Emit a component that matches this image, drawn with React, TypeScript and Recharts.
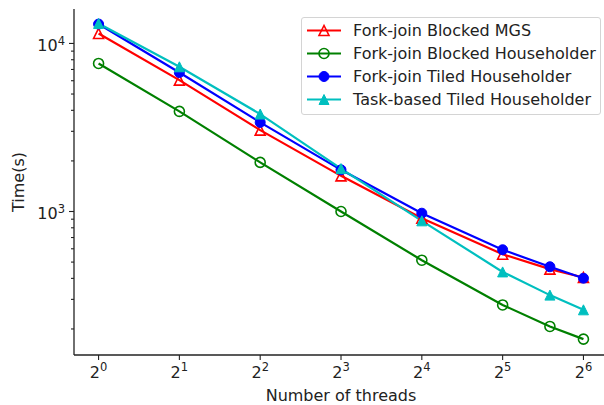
import { Legend, Line, LineChart, XAxis, YAxis } from 'recharts';

// thread counts on the x axis (log2)
const threads = [1, 2, 4, 8, 16, 32, 48, 64];

// runtimes in seconds
const mgsBlocked = [11470, 6050, 3050, 1630, 913, 557, 454, 405];
const hhBlocked = [7600, 3940, 1960, 1000, 513, 278, 207, 174];
const hhTiled = [13040, 6710, 3390, 1770, 977, 592, 469, 401];
const hhTask = [13150, 7260, 3800, 1800, 880, 437, 318, 260];

const xTicks = [1, 2, 4, 8, 16, 32, 64];
const yTicks = [
  200, 300, 400, 500, 600, 700, 800, 900, 1000,
  2000, 3000, 4000, 5000, 6000, 7000, 8000, 9000, 10000,
];
const yMajor = [1000, 10000];

const FONT = 'DejaVu Sans, Verdana, sans-serif';
const INK = '#222';
const FS = 16;

type Marker = 'triangleOpen' | 'circleOpen' | 'circle' | 'triangle';

const series: { key: string; name: string; color: string; marker: Marker; values: number[] }[] = [
  { key: 'mgs', name: 'Fork-join Blocked MGS', color: '#ff0000', marker: 'triangleOpen', values: mgsBlocked },
  { key: 'hhb', name: 'Fork-join Blocked Householder', color: '#008000', marker: 'circleOpen', values: hhBlocked },
  { key: 'hht', name: 'Fork-join Tiled Householder', color: '#0000ff', marker: 'circle', values: hhTiled },
  { key: 'task', name: 'Task-based Tiled Householder', color: '#00bfbf', marker: 'triangle', values: hhTask },
];

const data = threads.map((t, i) => {
  const row: Record<string, number> = { threads: t };
  series.forEach((s) => (row[s.key] = s.values[i]));
  return row;
});

function markerShape(kind: Marker, color: string, cx: number, cy: number, key?: string) {
  const s = 5;
  if (kind === 'circle' || kind === 'circleOpen') {
    return (
      <circle
        key={key}
        cx={cx}
        cy={cy}
        r={s}
        fill={kind === 'circle' ? color : 'none'}
        stroke={color}
        strokeWidth={kind === 'circle' ? 1 : 1.6}
      />
    );
  }
  const pts = `${cx},${cy - s} ${cx - s},${cy + s} ${cx + s},${cy + s}`;
  return (
    <polygon
      key={key}
      points={pts}
      fill={kind === 'triangle' ? color : 'none'}
      stroke={color}
      strokeWidth={kind === 'triangle' ? 1 : 1.6}
      strokeLinejoin="miter"
    />
  );
}

function XTick({ x, y, payload }: any) {
  const exp = Math.round(Math.log2(payload.value));
  return (
    <g>
      <line x1={x} x2={x} y1={y} y2={y + 5} stroke={INK} strokeWidth={1.1} />
      <text x={x} y={y + 23} textAnchor="middle" fontSize={FS} fill={INK} fontFamily={FONT}>
        2
        <tspan dy={-7} fontSize={11.5}>
          {exp}
        </tspan>
      </text>
    </g>
  );
}

function YTick({ x, y, payload }: any) {
  const v = payload.value;
  const major = yMajor.includes(v);
  return (
    <g>
      <line x1={x - (major ? 5 : 3)} x2={x} y1={y} y2={y} stroke={INK} strokeWidth={1.1} />
      {major && (
        <text x={x - 9} y={y + 8} textAnchor="end" fontSize={FS} fill={INK} fontFamily={FONT}>
          10
          <tspan dy={-6.5} fontSize={11.5}>
            {Math.round(Math.log10(v))}
          </tspan>
        </text>
      )}
    </g>
  );
}

function YLabel({ viewBox }: any) {
  const cx = viewBox.x + 24;
  const cy = viewBox.y + viewBox.height / 2;
  return (
    <text
      x={cx}
      y={cy}
      transform={`rotate(-90 ${cx} ${cy})`}
      textAnchor="middle"
      fontSize={FS}
      fill={INK}
      fontFamily={FONT}
    >
      Time(s)
    </text>
  );
}

function LegendBox() {
  return (
    <div
      style={{
        position: 'relative',
        width: 300,
        height: 98,
        boxSizing: 'border-box',
        border: '1px solid #d4d4d4',
        borderRadius: 3,
        background: 'rgba(255,255,255,0.85)',
        fontFamily: FONT,
        fontSize: FS,
        color: INK,
      }}
    >
      {series.map((s, i) => (
        <div
          key={s.key}
          style={{
            position: 'absolute',
            left: 0,
            top: 1 + i * 23,
            height: 23,
            display: 'flex',
            alignItems: 'center',
            whiteSpace: 'nowrap',
          }}
        >
          <svg width={51} height={23} style={{ flex: 'none' }}>
            <line x1={5} x2={39} y1={11.5} y2={11.5} stroke={s.color} strokeWidth={2.2} />
            {markerShape(s.marker, s.color, 22, 11.5)}
          </svg>
          <span>{s.name}</span>
        </div>
      ))}
    </div>
  );
}

export default function App() {
  return (
    <div
      style={{
        position: 'absolute',
        left: 0,
        top: 0,
        width: 604,
        height: 405,
        overflow: 'hidden',
        background: '#fff',
      }}
    >
      <LineChart width={620} height={405} data={data} margin={{ top: 9, right: 12, bottom: 0, left: 0 }}>
        <XAxis
          dataKey="threads"
          type="number"
          scale="log"
          domain={[0.81, 79]}
          allowDataOverflow
          ticks={xTicks}
          interval={0}
          tickSize={0}
          tickMargin={0}
          height={50}
          stroke={INK}
          axisLine={{ stroke: INK, strokeWidth: 1.3 }}
          tick={<XTick />}
          label={{ value: 'Number of threads', position: 'insideBottom', offset: 4, fill: INK, fontSize: FS, fontFamily: FONT }}
        />
        <XAxis
          xAxisId="top"
          orientation="top"
          dataKey="threads"
          type="number"
          scale="log"
          domain={[0.81, 79]}
          allowDataOverflow
          height={0}
          tick={false}
          tickLine={false}
          axisLine={{ stroke: INK, strokeWidth: 1.3 }}
        />
        <YAxis
          type="number"
          scale="log"
          domain={[140, 16030]}
          allowDataOverflow
          ticks={yTicks}
          interval={0}
          tickSize={0}
          tickMargin={0}
          width={74}
          axisLine={{ stroke: INK, strokeWidth: 1.3 }}
          tick={<YTick />}
          label={<YLabel />}
        />
        {series.map((s) => (
          <Line
            key={s.key}
            dataKey={s.key}
            name={s.name}
            stroke={s.color}
            strokeWidth={2.2}
            type="linear"
            isAnimationActive={false}
            dot={(p: any) => markerShape(s.marker, s.color, p.cx, p.cy, `${s.key}-${p.index}`)}
            activeDot={false}
          />
        ))}
        <Legend
          layout="vertical"
          align="center"
          verticalAlign="middle"
          wrapperStyle={{ left: 301, top: 17, width: 300, height: 98 }}
          content={() => <LegendBox />}
        />
      </LineChart>
    </div>
  );
}
